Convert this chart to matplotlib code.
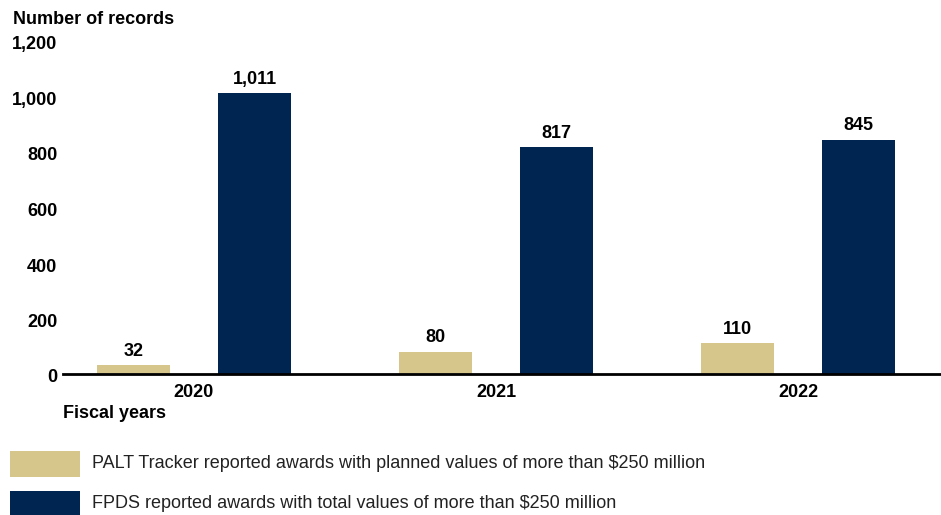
import matplotlib
matplotlib.use("Agg")
import matplotlib.pyplot as plt
import matplotlib.transforms as mtransforms
from matplotlib.patches import Rectangle

years = ["2020", "2021", "2022"]
palt = [32, 80, 110]
fpds = [1011, 817, 845]
yticks = [0, 200, 400, 600, 800, 1000, 1200]
legend_labels = ["PALT Tracker reported awards with planned values of more than $250 million",
                 "FPDS reported awards with total values of more than $250 million"]
gold = "#D6C68B"
navy = "#002550"

plt.rcParams['font.family'] = ['Liberation Sans', 'DejaVu Sans']
W, H = 941, 515
fig = plt.figure(figsize=(W/100, H/100), dpi=100)
ax = fig.add_axes([63/W, (H-374)/H, 1 - 63/W, (374-41)/H])

x = list(range(len(years)))
bw = 73/302
off = 60.5/302
b1 = ax.bar([i - off for i in x], palt, width=bw, color=gold)
b2 = ax.bar([i + off for i in x], fpds, width=bw, color=navy)
for bars, vals in ((b1, palt), (b2, fpds)):
    for r, v in zip(bars, vals):
        ax.text(r.get_x() + r.get_width()/2, v + 20, f"{v:,}", ha="center", va="bottom",
                fontsize=13, fontweight="bold", color="black")

ax.set_xlim(-131/302, 2 + 143/302)
ax.set_ylim(0, 1200)
ax.set_yticks(yticks)
ax.set_yticklabels([f"{v:,}" for v in yticks], fontsize=13, fontweight="bold")
ax.set_xticks(x)
ax.set_xticklabels(years, fontsize=13, fontweight="bold")
ax.tick_params(axis="both", length=0)
ax.tick_params(axis="y", pad=4)
ax.tick_params(axis="x", pad=7)
shift = mtransforms.ScaledTranslation(0, -2/100, fig.dpi_scale_trans)
for lab in ax.get_yticklabels():
    lab.set_transform(lab.get_transform() + shift)
for s in ("top", "right", "left"):
    ax.spines[s].set_visible(False)
ax.spines["bottom"].set_linewidth(2)
ax.spines["bottom"].set_color("black")

fig.text(13/W, 1 - 19/H, "Number of records", fontsize=13, fontweight="bold", va="center", ha="left")
fig.text(63/W, 1 - 413/H, "Fiscal years", fontsize=13, fontweight="bold", va="center", ha="left")

for i, (lab, col) in enumerate(zip(legend_labels, (gold, navy))):
    y0 = 451 + i*40
    fig.patches.append(Rectangle((10/W, 1 - (y0+26)/H), 70/W, 26/H, transform=fig.transFigure,
                                 facecolor=col, edgecolor="none"))
    fig.text(92/W, 1 - (y0+13)/H, lab, fontsize=13, color="#222222", va="center", ha="left")

fig.savefig("out.png", dpi=100)
